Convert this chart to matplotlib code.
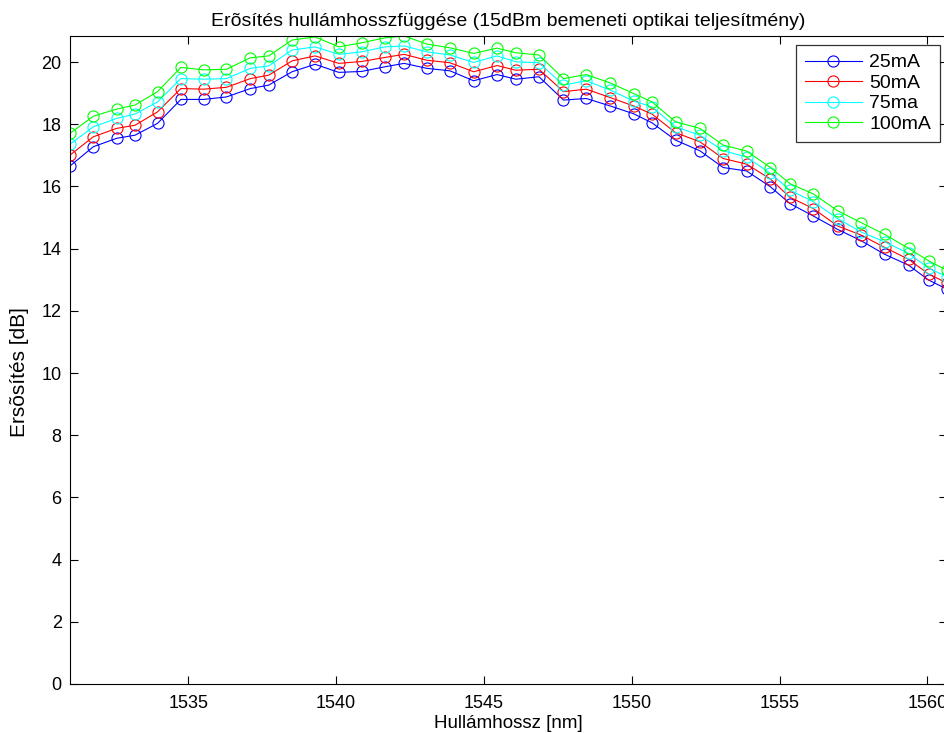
import matplotlib
matplotlib.use("Agg")
import matplotlib.pyplot as plt

plt.rcParams['font.family'] = ['Liberation Sans', 'DejaVu Sans']

wavelength = [1531.00, 1531.79, 1532.58, 1533.20, 1533.96, 1534.75, 1535.52, 1536.29,
              1537.10, 1537.72, 1538.51, 1539.29, 1540.09, 1540.86, 1541.65, 1542.30,
              1543.07, 1543.85, 1544.65, 1545.44, 1546.08, 1546.86, 1547.69, 1548.46,
              1549.27, 1550.06, 1550.68, 1551.48, 1552.30, 1553.09, 1553.88, 1554.69,
              1555.35, 1556.14, 1556.96, 1557.75, 1558.55, 1559.36, 1560.04, 1560.66]

gain_25mA = [16.66, 17.28, 17.55, 17.65, 18.03, 18.80, 18.80, 18.88,
             19.15, 19.26, 19.69, 19.93, 19.67, 19.70, 19.85, 19.96,
             19.80, 19.72, 19.40, 19.60, 19.45, 19.53, 18.78, 18.83,
             18.59, 18.34, 18.05, 17.49, 17.15, 16.61, 16.50, 15.99,
             15.45, 15.05, 14.62, 14.26, 13.82, 13.47, 12.99, 12.70]

gain_50mA = [17.01, 17.60, 17.87, 17.97, 18.40, 19.15, 19.13, 19.19,
             19.47, 19.58, 20.04, 20.20, 19.96, 20.02, 20.15, 20.25,
             20.06, 19.98, 19.69, 19.89, 19.74, 19.77, 19.05, 19.13,
             18.86, 18.59, 18.33, 17.73, 17.44, 16.90, 16.72, 16.24,
             15.65, 15.29, 14.73, 14.44, 14.04, 13.66, 13.18, 12.90]

gain_75ma = [17.36, 17.92, 18.19, 18.33, 18.72, 19.47, 19.45, 19.47,
             19.80, 19.88, 20.39, 20.49, 20.25, 20.33, 20.49, 20.52,
             20.33, 20.23, 19.99, 20.20, 20.01, 19.98, 19.26, 19.40,
             19.10, 18.75, 18.56, 17.92, 17.65, 17.15, 16.95, 16.42,
             15.88, 15.51, 14.97, 14.54, 14.22, 13.85, 13.37, 13.10]

gain_100mA = [17.71, 18.26, 18.49, 18.62, 19.05, 19.83, 19.75, 19.77,
              20.14, 20.20, 20.71, 20.81, 20.49, 20.62, 20.78, 20.84,
              20.58, 20.46, 20.28, 20.45, 20.30, 20.23, 19.47, 19.60,
              19.33, 18.99, 18.72, 18.08, 17.87, 17.33, 17.14, 16.61,
              16.09, 15.76, 15.22, 14.84, 14.46, 14.01, 13.61, 13.30]

labels = ['25mA', '50mA', '75ma', '100mA']
colors = ['#0000ff', '#ff0000', '#00ffff', '#00ff00']
series = [gain_25mA, gain_50mA, gain_75ma, gain_100mA]

xticks = [1535, 1540, 1545, 1550, 1555, 1560]
yticks = [0, 2, 4, 6, 8, 10, 12, 14, 16, 18, 20]

W, H = 944, 733
fig = plt.figure(figsize=(W / 100, H / 100), dpi=100)
left_px, right_px, top_px, bottom_px = 70, 947, 36, 684
ax = fig.add_axes([left_px / W, (H - bottom_px) / H,
                   (right_px - left_px) / W, (bottom_px - top_px) / H])

for ys, c, lab in zip(series, colors, labels):
    ax.plot(wavelength, ys, color=c, marker='o', markerfacecolor='none',
            markeredgecolor=c, markersize=8, markeredgewidth=0.8,
            linewidth=0.8, label=lab)

ax.set_xlim(wavelength[0], wavelength[-1])
ax.set_ylim(0, max(gain_100mA))
ax.set_xticks(xticks)
ax.set_yticks(yticks)
ax.tick_params(direction='in', top=True, right=True, length=6, width=0.8,
               labelsize=13)
ax.tick_params(axis='x', pad=8)
ax.tick_params(axis='y', pad=6)
for s in ax.spines.values():
    s.set_linewidth(0.8)

ax.set_title('Erõsítés hullámhosszfüggése (15dBm bemeneti optikai teljesítmény)',
             fontsize=14, pad=7)
ax.set_xlabel('Hullámhossz [nm]', fontsize=13.5, labelpad=2)
ax.set_ylabel('Ersõsítés [dB]', fontsize=15)
ax.yaxis.set_label_coords((29 - left_px) / (right_px - left_px),
                          (bottom_px - 372) / (bottom_px - top_px))

leg = ax.legend(loc='upper right', bbox_to_anchor=((940 - left_px) / (right_px - left_px),
                (bottom_px - 45) / (bottom_px - top_px)),
                fontsize=14, frameon=True, fancybox=False, borderaxespad=0,
                handlelength=2.9, handletextpad=0.4, labelspacing=0.15,
                borderpad=0.45)
leg.get_frame().set_edgecolor('black')
leg.get_frame().set_linewidth(0.9)

fig.savefig('out.png', dpi=100)
